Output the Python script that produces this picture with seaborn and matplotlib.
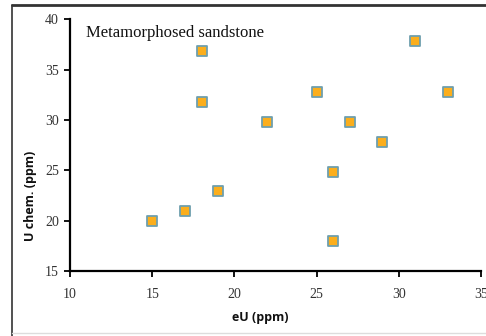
import matplotlib
matplotlib.use("Agg")
import matplotlib.pyplot as plt
import seaborn as sns
import pandas as pd
from matplotlib.lines import Line2D

# eU vs chemical U for the metamorphosed sandstone samples
eu_ppm = [15, 17, 19, 18, 18, 22, 25, 26, 26, 27, 29, 31, 33]
u_chem_ppm = [20, 21, 23, 36.8, 31.8, 29.8, 32.8, 24.8, 18, 29.8, 27.8, 37.8, 32.8]
x_ticks = [10, 15, 20, 25, 30, 35]
y_ticks = [15, 20, 25, 30, 35, 40]

df = pd.DataFrame({"eU (ppm)": eu_ppm, "U chem. (ppm)": u_chem_ppm})

sns.set_theme(style="ticks")
plt.rcParams["font.family"] = ["Liberation Serif", "DejaVu Serif"]

fig = plt.figure(figsize=(4.86, 3.36), dpi=100)
ax = fig.add_axes([0.144, 0.193, 0.846, 0.750])

sns.scatterplot(data=df, x="eU (ppm)", y="U chem. (ppm)", ax=ax,
                marker="s", s=42, color="#FBAE1C", edgecolor="#6E9FAE",
                linewidth=1.3, zorder=3)

ax.set_xlim(10, 35)
ax.set_ylim(15, 40)
ax.set_xticks(x_ticks)
ax.set_yticks(y_ticks)
ax.tick_params(axis="both", direction="out", length=4, width=1.3,
               color="black", labelsize=10, labelcolor="#333333")
ax.tick_params(axis="x", pad=8)
ax.tick_params(axis="y", pad=4)

for side in ("top", "right"):
    ax.spines[side].set_visible(False)
for side in ("left", "bottom"):
    ax.spines[side].set_linewidth(1.6)
    ax.spines[side].set_color("black")

label_font = dict(family=["Open Sans", "DejaVu Sans"], fontweight="bold",
                  fontsize=9, color="#111111")
ax.set_xlabel("eU (ppm)", **label_font)
ax.set_ylabel("U chem. (ppm)", **label_font)
ax.xaxis.set_label_coords(0.462, -0.16)
ax.yaxis.set_label_coords(-0.08, 0.30)

ax.text(0.039, 0.945, "Metamorphosed sandstone", transform=ax.transAxes,
        ha="left", va="center", fontsize=12, color="#111111")

# Frame around the figure: heavy top edge, thin left and bottom edges
fig.add_artist(Line2D([12 / 486, 1.0], [1 - 5 / 336, 1 - 5 / 336],
                      transform=fig.transFigure, color="#333333", lw=2.0))
fig.add_artist(Line2D([12 / 486, 12 / 486], [0.0, 1 - 5 / 336],
                      transform=fig.transFigure, color="#333333", lw=1.2))
fig.add_artist(Line2D([12 / 486, 1.0], [3 / 336, 3 / 336],
                      transform=fig.transFigure, color="#dddddd", lw=1.0))

fig.savefig("out.png", dpi=100)
